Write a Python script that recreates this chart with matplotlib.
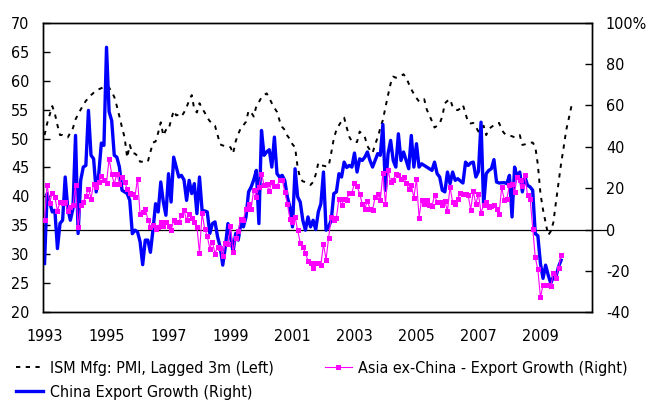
import numpy as np
import matplotlib
matplotlib.use("Agg")
import matplotlib.pyplot as plt
from matplotlib.lines import Line2D

plt.rcParams['font.family'] = ['DejaVu Sans']
plt.rcParams['font.stretch'] = 'condensed'

# monthly, starting Jan 1993
ism_pmi_lag3 = [
    50.6, 52.6, 54.1, 55.6, 54.3, 52.3, 50.6, 50.6, 50.4, 50.2, 51.0, 51.8,
    53.3, 54.2, 55.0, 55.8, 56.5, 57.0, 57.5, 57.9, 58.2, 58.5, 58.7, 58.9,
    59.0, 58.8, 58.0, 57.2, 55.6, 53.8, 51.9, 50.2, 46.7, 48.9, 47.5, 47.4,
    47.0, 46.0, 46.0, 46.0, 46.0, 47.7, 49.3, 49.5, 51.0, 52.8, 50.5, 51.5,
    51.5, 53.2, 54.8, 54.0, 54.1, 53.8, 54.5, 55.4, 56.6, 57.5, 55.0, 54.5,
    56.1, 55.2, 54.5, 53.6, 53.0, 52.5, 52.2, 50.6, 49.0, 48.8, 48.7, 48.7,
    48.5, 47.4, 49.5, 50.8, 51.8, 52.3, 52.9, 54.8, 54.5, 53.8, 55.6, 56.3,
    57.1, 57.5, 57.8, 57.0, 56.1, 55.3, 54.6, 53.1, 52.0, 51.5, 50.5, 49.9,
    49.0, 48.5, 45.0, 43.1, 42.6, 42.5, 42.2, 42.0, 42.5, 43.8, 45.8, 45.4,
    45.3, 45.2, 45.2, 47.5, 50.0, 51.5, 52.3, 53.0, 53.6, 51.9, 50.3, 49.5,
    49.4, 49.4, 51.2, 50.8, 50.3, 48.7, 48.0, 47.5, 49.0, 50.2, 51.8, 53.2,
    55.4, 57.5, 59.5, 60.7, 60.5, 60.6, 60.8, 61.1, 60.5, 59.5, 58.5, 57.7,
    57.0, 56.4, 56.5, 56.8, 55.0, 54.0, 53.0, 51.9, 52.2, 52.6, 53.8, 56.1,
    56.5, 56.8, 55.5, 55.0, 54.9, 55.2, 55.8, 54.3, 52.8, 52.6, 52.7, 52.0,
    51.2, 51.8, 52.2, 50.6, 51.6, 52.0, 52.3, 52.5, 52.7, 51.5, 50.9, 50.6,
    50.5, 50.4, 50.2, 50.4, 50.6, 48.9, 49.0, 49.2, 49.3, 49.3, 48.6, 45.5,
    40.5, 37.7, 35.5, 33.3, 34.0, 35.5, 39.0, 42.3, 45.7, 48.5, 51.5, 53.5,
    55.6,
]

asia_ex_china = [
    4.5, 21.7, 12.9, 17.8, 15.8, 9.0, 13.3, 13.0, 13.3, 9.0, 10.9, 11.7,
    21.7, 1.0, 11.7, 13.3, 16.1, 19.8, 15.0, 22.2, 20.6, 23.0, 25.9, 24.1,
    22.5, 34.2, 27.0, 21.9, 27.0, 22.2, 25.4, 23.0, 19.8, 17.7, 17.0, 15.8,
    24.6, 7.4, 8.5, 10.1, 4.8, 1.3, 2.1, 0.5, 1.3, 3.7, 1.6, 3.7,
    1.5, -0.3, 4.5, 3.7, 3.7, 6.9, 9.3, 4.5, 7.7, 5.8, 3.7, 1.3,
    -11.3, 8.0, 0.5, -3.2, -9.2, -5.9, -11.6, -8.4, -8.7, -12.9, -6.4, -7.0,
    1.6, -10.8, -4.3, -0.6, 5.3, 4.8, 10.1, 12.5, 10.1, 19.3, 15.8, 20.6,
    27.0, 21.4, 21.9, 18.6, 23.0, 20.9, 21.1, 23.8, 24.1, 18.2, 12.5, 5.3,
    3.7, 6.1, -0.3, -6.4, -8.4, -11.3, -15.1, -16.4, -18.8, -16.1, -16.4, -16.9,
    -7.1, -14.5, -3.9, 6.1, 4.5, 5.8, 15.0, 11.7, 15.0, 14.5, 17.7, 17.7,
    22.5, 20.9, 17.4, 12.5, 10.1, 13.8, 10.1, 9.3, 15.8, 17.4, 14.1, 27.3,
    12.2, 28.9, 23.0, 24.1, 26.7, 26.2, 24.6, 25.4, 22.5, 19.8, 21.4, 15.4,
    24.6, 5.8, 14.5, 12.5, 14.1, 11.7, 11.3, 16.6, 13.3, 13.3, 11.7, 13.8,
    9.0, 20.6, 13.3, 12.2, 15.0, 17.7, 17.4, 17.0, 16.6, 9.6, 18.6, 12.2,
    17.4, 8.0, 12.0, 13.3, 10.9, 11.3, 11.7, 10.1, 7.7, 20.6, 14.1, 15.0,
    21.4, 22.2, 18.2, 25.4, 23.8, 20.9, 26.2, 16.6, 15.0, 0.5, -13.5, -19.3,
    -32.8, -26.8, -26.8, -27.0, -27.3, -21.2, -23.2, -18.8, -12.1,
]

china_exports = [
    -16.4, 17.4, 13.3, 8.5, 9.3, -9.2, 3.0, 4.5, 25.4, 10.1, 4.5, 10.0,
    45.5, -1.9, 23.8, 30.2, 31.0, 57.6, 35.9, 34.2, 18.2, 27.0, 41.8, 40.7,
    88.1, 57.0, 52.7, 35.9, 35.0, 30.2, 19.0, 18.2, 17.4, 14.1, -2.0, -0.3,
    -1.1, -5.9, -17.0, -5.1, -5.1, -11.0, 0.0, 12.5, 8.5, 23.0, 13.3, 6.9,
    27.0, 13.3, 35.0, 30.2, 25.4, 26.2, 24.0, 14.1, 23.8, 17.4, 22.2, 7.7,
    25.4, 9.3, 9.0, 8.5, -1.9, 2.9, 3.7, -3.5, -8.4, -17.2, -8.4, 2.9,
    -3.5, -10.8, -1.9, -5.1, 2.9, 1.3, 6.1, 18.2, 20.6, 24.0, 28.6, 2.9,
    47.9, 35.9, 37.5, 38.6, 30.2, 44.7, 27.0, 25.4, 26.2, 23.8, 15.8, 10.9,
    1.3, 29.4, 15.8, 13.3, 4.5, -0.3, 6.1, 1.3, 4.5, 0.0, 8.5, 12.5,
    27.8, -0.3, 1.3, 4.5, 17.4, 18.2, 27.0, 25.4, 32.6, 30.0, 31.0, 30.2,
    37.0, 27.8, 34.2, 33.4, 35.0, 37.5, 33.4, 30.2, 33.4, 36.7, 35.9, 50.8,
    19.0, 36.7, 43.1, 33.4, 30.2, 46.3, 33.4, 37.5, 33.4, 29.4, 45.5, 30.2,
    41.5, 30.2, 31.8, 31.0, 30.2, 29.4, 28.6, 32.6, 27.0, 25.4, 19.0, 18.2,
    27.8, 22.2, 27.8, 23.8, 24.6, 23.5, 22.5, 32.6, 31.0, 32.2, 32.6, 25.4,
    28.0, 51.9, 11.7, 27.0, 28.6, 29.4, 33.8, 23.0, 22.5, 22.6, 22.7, 22.2,
    26.2, 6.1, 30.2, 25.4, 27.8, 18.2, 25.4, 21.4, 20.6, 19.0, -2.0, -3.0,
    -16.4, -23.6, -17.2, -22.0, -26.0, -22.8, -22.8, -18.0, -14.8,
]

year_ticks = list(range(1993, 2010, 2))
right_ticks = [-40, -20, 0, 20, 40, 60, 80, 100]


def months(series):
    return 1993 + np.arange(len(series)) / 12.0


fig = plt.figure(figsize=(6.49, 4.04), dpi=100)
ax = fig.add_axes([0.0667, 0.227, 0.8453, 0.7168])
ax2 = ax.twinx()

ax.plot(months(ism_pmi_lag3), ism_pmi_lag3, color='black', lw=1.4,
        linestyle=(0, (2.2, 2.8)), label='ISM Mfg: PMI, Lagged 3m (Left)')
ax2.plot(months(china_exports), china_exports, color='#0000ff', lw=2.4,
         label='China Export Growth (Right)', zorder=2)
ax2.plot(months(asia_ex_china), asia_ex_china, color='#ff00ff', lw=0.8,
         marker='s', markersize=3.6, markeredgewidth=0,
         label='Asia ex-China - Export Growth (Right)', zorder=3)

ax.set_xlim(1992.96, 2010.66)
ax.set_ylim(20, 70)
ax2.set_ylim(-40, 100)

fs = 11.5
ax.set_yticks(range(20, 71, 5))
ax2.set_yticks(right_ticks)
ax2.set_yticklabels([f'{t}%' if t == 100 else str(t) for t in right_ticks])
ax.set_xticks(year_ticks)
ax.set_xticklabels([str(y) for y in year_ticks])

ax.tick_params(axis='y', direction='in', length=5, width=1, pad=10, labelsize=fs)
ax2.tick_params(axis='y', direction='in', length=5, width=1, pad=10, labelsize=fs)
ax.tick_params(axis='x', length=0, pad=12, labelsize=fs)

for a in (ax, ax2):
    for s in a.spines.values():
        s.set_linewidth(1.0)

# horizontal axis line at zero on the right scale, running a bit past the right spine
ax2.plot([0, 1.027], [0, 0], color='black', lw=0.9, clip_on=False,
         transform=ax2.get_yaxis_transform(), zorder=1)

h1, l1 = ax.get_legend_handles_labels()
h2, l2 = ax2.get_legend_handles_labels()
handles = [h1[0], h2[0], h2[1]]
labels = [l1[0], l2[0], l2[1]]
fig.legend(handles, labels, loc='upper left', bbox_to_anchor=(0.025, 0.107),
           ncol=2, frameon=False, fontsize=fs, borderpad=0, borderaxespad=0,
           handlelength=1.7, handletextpad=0.4, columnspacing=3.2, labelspacing=0.55)

fig.savefig('out.png', dpi=100)
